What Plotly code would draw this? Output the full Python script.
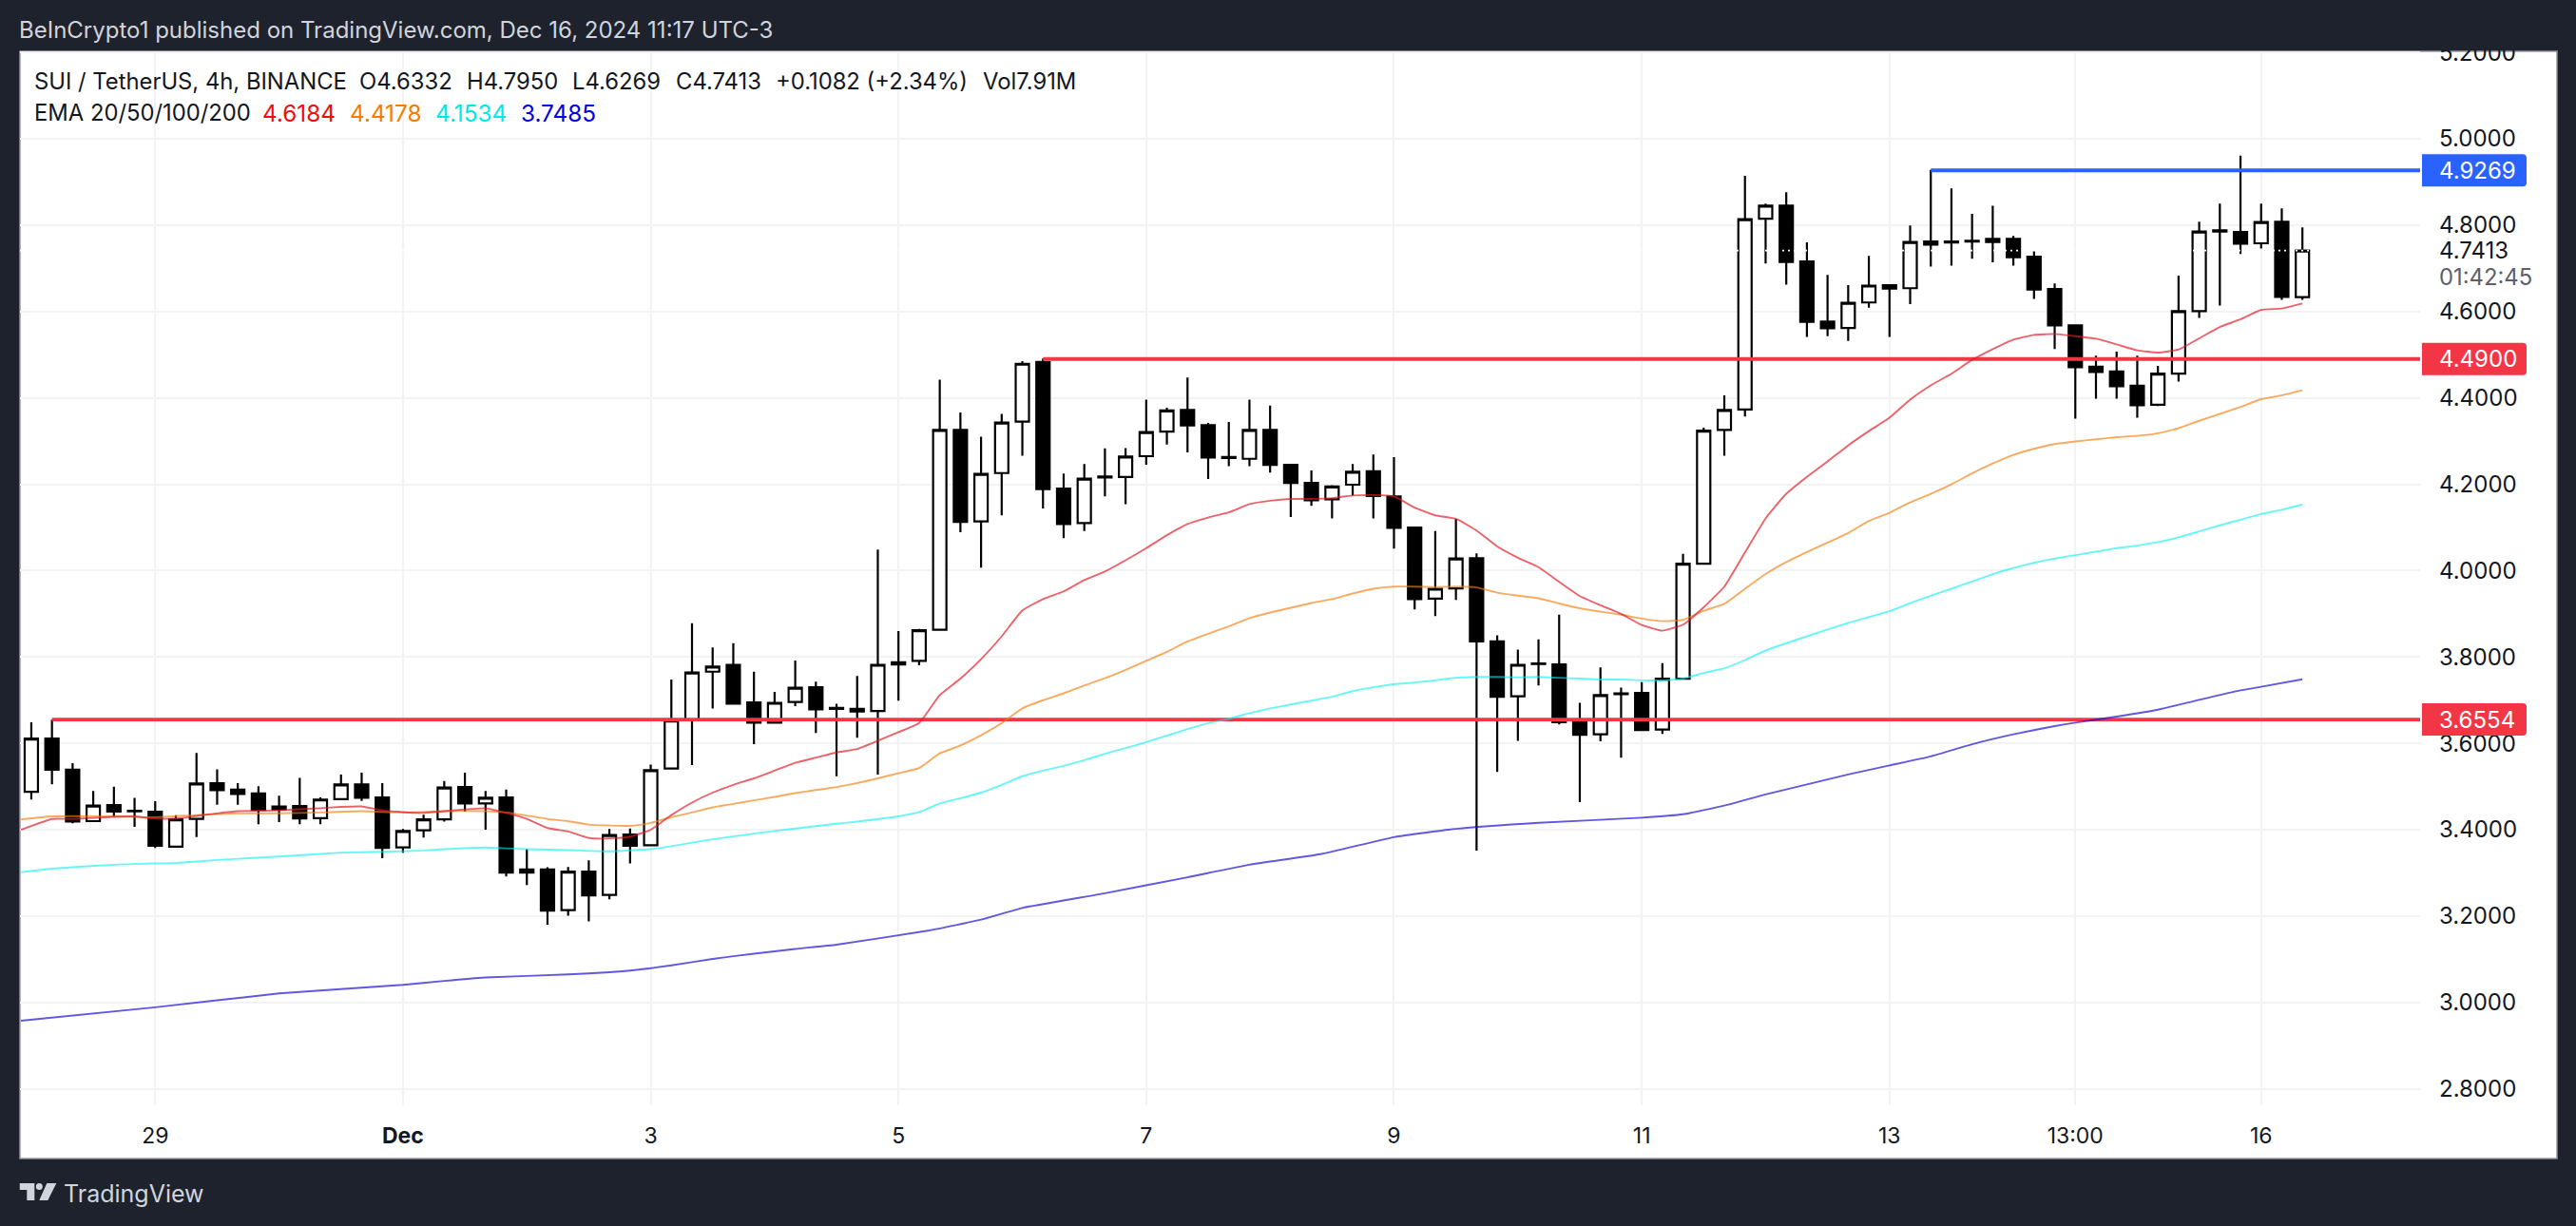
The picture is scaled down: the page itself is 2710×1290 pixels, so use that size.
import plotly.graph_objects as go

# ---------- data ----------
bar_index = list(range(-6, 105))
opens = [3.488,3.611,3.539,3.420,3.457,3.444,3.442,3.361,3.425,3.508,3.493,3.484,3.447,3.455,3.427,3.471,3.505,3.475,3.359,3.399,3.424,3.499,3.461,3.475,3.308,3.308,3.214,3.303,3.249,3.389,3.364,3.542,3.654,3.766,3.782,3.695,3.648,3.696,3.730,3.682,3.680,3.675,3.783,3.791,3.863,4.326,4.114,4.226,4.345,4.483,4.190,4.110,4.218,4.217,4.265,4.322,4.372,4.337,4.263,4.259,4.326,4.245,4.203,4.165,4.199,4.230,4.172,4.100,3.935,3.959,4.029,3.836,3.709,3.785,3.783,3.650,3.621,3.716,3.717,3.632,3.750,4.016,4.326,4.373,4.815,4.845,4.716,4.577,4.562,4.621,4.661,4.654,4.762,4.762,4.764,4.768,4.768,4.727,4.652,4.568,4.472,4.461,4.428,4.384,4.456,4.601,4.788,4.784,4.758,4.808,4.6332]
highs = [3.649,3.655,3.554,3.490,3.500,3.474,3.466,3.434,3.578,3.540,3.508,3.501,3.479,3.520,3.475,3.528,3.532,3.508,3.402,3.435,3.513,3.532,3.490,3.493,3.355,3.313,3.314,3.329,3.402,3.403,3.551,3.748,3.878,3.822,3.832,3.766,3.719,3.792,3.743,3.692,3.756,4.049,3.860,3.865,4.442,4.366,4.310,4.363,4.485,4.491,4.225,4.247,4.283,4.284,4.396,4.377,4.447,4.342,4.344,4.396,4.382,4.246,4.232,4.198,4.247,4.269,4.263,4.102,4.092,4.120,4.040,3.850,3.817,3.841,3.898,3.694,3.776,3.729,3.742,3.786,4.039,4.331,4.406,4.914,4.850,4.876,4.760,4.685,4.661,4.729,4.662,4.799,4.928,4.885,4.826,4.845,4.775,4.740,4.665,4.568,4.498,4.507,4.498,4.474,4.683,4.808,4.850,4.961,4.850,4.839,4.7950]
lows = [3.470,3.505,3.415,3.419,3.430,3.407,3.358,3.360,3.383,3.458,3.458,3.413,3.418,3.413,3.413,3.471,3.467,3.334,3.347,3.382,3.419,3.442,3.400,3.292,3.272,3.180,3.201,3.188,3.239,3.322,3.363,3.542,3.550,3.681,3.692,3.598,3.646,3.686,3.624,3.524,3.613,3.528,3.699,3.781,3.861,4.089,4.007,4.128,4.266,4.144,4.075,4.092,4.172,4.154,4.245,4.292,4.274,4.212,4.242,4.242,4.227,4.124,4.150,4.121,4.174,4.121,4.051,3.910,3.895,3.932,3.352,3.534,3.606,3.734,3.644,3.464,3.605,3.567,3.629,3.622,3.750,4.016,4.266,4.357,4.711,4.662,4.541,4.543,4.532,4.609,4.541,4.617,4.704,4.706,4.722,4.714,4.706,4.629,4.513,4.352,4.398,4.398,4.354,4.381,4.438,4.585,4.614,4.733,4.746,4.627,4.6269]
closes = [3.611,3.539,3.419,3.456,3.442,3.443,3.363,3.424,3.507,3.492,3.483,3.446,3.454,3.426,3.470,3.505,3.474,3.358,3.397,3.424,3.498,3.461,3.474,3.301,3.301,3.213,3.303,3.248,3.388,3.363,3.538,3.653,3.764,3.778,3.692,3.648,3.694,3.729,3.679,3.680,3.674,3.782,3.788,3.862,4.326,4.113,4.224,4.343,4.479,4.189,4.108,4.213,4.216,4.264,4.321,4.371,4.336,4.262,4.261,4.326,4.245,4.203,4.163,4.195,4.229,4.173,4.099,3.934,3.958,4.028,3.836,3.708,3.782,3.784,3.649,3.620,3.712,3.714,3.631,3.750,4.016,4.324,4.372,4.814,4.845,4.715,4.576,4.561,4.620,4.660,4.653,4.761,4.755,4.760,4.762,4.761,4.726,4.651,4.568,4.471,4.460,4.427,4.383,4.456,4.601,4.785,4.785,4.757,4.807,4.634,4.7413]

ema20_idx = [-6.5,-5,-4,-2,-1,0,1,2,3,4,6,8,9,10,11,12,13,14,16,17,18,19,20,21,22,23,24,25,26,27,28,29,30,31,32,33,34,35,36,37,38,39,40,41,42,43,44,45,46,47,48,49,50,51,52,53,54,55,56,57,58,59,60,61,62,63,64,65,66,67,68,69,70,71,72,73,74,75,76,77,78,79,80,81,82,83,84,85,86,87,88,89,90,91,92,93,94,95,96,97,98,99,100,101,102,103,104]
ema20 = [3.400,3.425,3.425,3.430,3.431,3.426,3.426,3.432,3.438,3.443,3.445,3.450,3.453,3.454,3.445,3.441,3.439,3.443,3.450,3.439,3.425,3.404,3.396,3.381,3.380,3.384,3.400,3.434,3.463,3.486,3.504,3.519,3.537,3.555,3.567,3.579,3.587,3.606,3.626,3.647,3.712,3.750,3.795,3.848,3.908,3.934,3.952,3.978,3.998,4.024,4.052,4.082,4.108,4.123,4.135,4.154,4.162,4.166,4.166,4.168,4.174,4.175,4.172,4.146,4.128,4.120,4.093,4.056,4.030,4.008,3.974,3.941,3.920,3.900,3.874,3.861,3.875,3.915,3.963,4.042,4.121,4.178,4.217,4.253,4.290,4.323,4.354,4.396,4.429,4.456,4.488,4.513,4.535,4.546,4.548,4.543,4.537,4.524,4.510,4.505,4.512,4.538,4.564,4.582,4.604,4.607,4.6184]

ema50_idx = [-6.5,-5,-2,0,2,4,6,8,10,12,14,16,17,18,19,20,21,22,23,24,25,26,27,28,29,30,31,32,33,34,35,36,37,38,39,40,41,42,43,44,45,46,47,48,49,50,51,52,53,54,55,56,57,58,59,60,61,62,63,64,65,66,67,68,69,70,71,72,73,74,75,76,77,78,79,80,81,82,83,84,85,86,87,88,89,90,91,92,93,94,95,96,97,98,99,100,101,102,103,104]
ema50 = [3.424,3.431,3.431,3.429,3.434,3.438,3.438,3.440,3.443,3.440,3.443,3.443,3.440,3.433,3.425,3.420,3.412,3.410,3.409,3.416,3.429,3.440,3.452,3.460,3.468,3.476,3.485,3.492,3.499,3.508,3.519,3.531,3.543,3.577,3.595,3.619,3.647,3.681,3.700,3.716,3.734,3.751,3.770,3.791,3.812,3.836,3.854,3.871,3.890,3.903,3.914,3.925,3.934,3.947,3.958,3.963,3.963,3.962,3.963,3.961,3.949,3.942,3.936,3.924,3.913,3.905,3.898,3.889,3.883,3.886,3.907,3.923,3.958,3.992,4.020,4.043,4.065,4.087,4.115,4.134,4.158,4.178,4.200,4.225,4.248,4.268,4.282,4.293,4.299,4.304,4.309,4.312,4.318,4.330,4.347,4.363,4.379,4.397,4.406,4.4178]

ema100_idx = [-6.5,-5,-2,0,1,3,6,9,11,13,14,16,17,18,20,22,24,25,27,29,31,33,34,36,37,38,39,40,41,42,43,44,45,46,47,48,49,50,51,52,53,54,55,56,57,58,59,60,61,62,63,64,65,66,67,68,69,70,71,72,73,74,75,76,77,78,80,82,84,85,86,87,88,89,90,91,92,93,94,95,96,97,98,99,100,101,102,103,104]
ema100 = [3.302,3.310,3.319,3.322,3.323,3.330,3.338,3.347,3.349,3.352,3.355,3.359,3.357,3.355,3.353,3.350,3.355,3.362,3.378,3.391,3.403,3.414,3.419,3.431,3.441,3.461,3.473,3.486,3.504,3.524,3.537,3.548,3.561,3.576,3.589,3.603,3.618,3.633,3.647,3.657,3.670,3.681,3.690,3.699,3.708,3.721,3.730,3.737,3.741,3.746,3.752,3.754,3.754,3.753,3.754,3.752,3.750,3.748,3.748,3.746,3.746,3.750,3.763,3.774,3.793,3.815,3.848,3.879,3.906,3.925,3.942,3.958,3.975,3.992,4.006,4.018,4.028,4.036,4.044,4.052,4.058,4.066,4.077,4.091,4.105,4.118,4.131,4.141,4.1534]

ema200_idx = [-6.5,0,6,12,14,16,20,23,25,27,29,31,33,37.5,40,42,46,50,53,56.5,60,63,67,72,74,76,78,80,82,84,86,88,90,92,93,95,97,99,101,102,104]
ema200 = [2.958,2.989,3.021,3.041,3.050,3.058,3.065,3.074,3.086,3.101,3.113,3.124,3.134,3.167,3.192,3.219,3.253,3.290,3.319,3.344,3.383,3.402,3.416,3.428,3.436,3.456,3.482,3.505,3.528,3.549,3.570,3.598,3.621,3.640,3.648,3.662,3.678,3.701,3.723,3.731,3.7485]

level_low = 3.6554
level_mid = 4.4900
level_high = 4.9269
level_low_start = -5
level_mid_start = 43
level_high_start = 86
last_price = 4.7413

x_tick_vals = [0, 12, 24, 36, 48, 60, 72, 84, 93, 102]
x_tick_text = ["29", "<b>Dec</b>", "3", "5", "7", "9", "11", "13", "13:00", "16"]
y_tick_vals = [2.8, 3.0, 3.2, 3.4, 3.6, 3.8, 4.0, 4.2, 4.4, 4.6, 4.8, 5.0, 5.2]

header_text = "BeInCrypto1 published on TradingView.com, Dec 16, 2024 11:17 UTC-3"
ohlc_tokens = ["SUI / TetherUS, 4h, BINANCE", "O4.6332", "H4.7950", "L4.6269", "C4.7413", "+0.1082 (+2.34%)", "Vol7.91M"]
ema_title = "EMA 20/50/100/200"
ema_values = ["4.6184", "4.4178", "4.1534", "3.7485"]
ema_colors = ["#f00d0d", "#f57c00", "#00e8e8", "#0000e0"]

# ---------- layout constants ----------
W, H = 2710, 1290
L, R, T, B = 20.7, 2546, 54, 1163
X_RANGE = [-6.55, 109.7]
Y_RANGE = [2.762, 5.2025]
DARK = "#1e222d"
FONT = "Inter"
OHLC_X = [36, 378, 491, 602, 711, 816, 1034]
EMA_X = [36, 276, 368, 457.5, 548]

px = lambda x: (x - L) / (R - L)
py = lambda y: (B - y) / (B - T)

fig = go.Figure()

for start, level, color in [(level_low_start, level_low, "#f23645"),
                            (level_mid_start, level_mid, "#f23645"),
                            (level_high_start, level_high, "#2962ff")]:
    fig.add_trace(go.Scatter(x=[start, X_RANGE[1]], y=[level, level], mode="lines",
                             line=dict(color=color, width=3.8), hoverinfo="skip"))

for ix, vals, color in [(ema200_idx, ema200, "rgba(20,10,210,0.68)"),
                        (ema100_idx, ema100, "rgba(0,240,240,0.6)"),
                        (ema50_idx, ema50, "rgba(245,125,10,0.65)"),
                        (ema20_idx, ema20, "rgba(225,25,35,0.68)")]:
    fig.add_trace(go.Scatter(x=ix, y=vals, mode="lines",
                             line=dict(color=color, width=1.9, shape="spline", smoothing=0.4), hoverinfo="skip"))

fig.add_trace(go.Candlestick(
    x=bar_index, open=opens, high=highs, low=lows, close=closes,
    increasing=dict(fillcolor="#ffffff", line=dict(color="#000000", width=2.2)),
    decreasing=dict(fillcolor="#000000", line=dict(color="#000000", width=2.2)),
    whiskerwidth=0,
))
fig.add_trace(go.Scatter(x=X_RANGE, y=[last_price, last_price], mode="lines",
                         line=dict(color="#ffffff", width=1.6, dash="2px,4px"), hoverinfo="skip"))

def tag_shape(value, color):
    x0, x1 = px(2548), px(2658)
    r = 4 / (R - L)
    h = 0.0372
    rv = 4 / 454.4
    path = (f"M {x0},{value-h} L {x1-r},{value-h} Q {x1},{value-h} {x1},{value-h+rv} "
            f"L {x1},{value+h-rv} Q {x1},{value+h} {x1-r},{value+h} L {x0},{value+h} Z")
    return dict(type="path", xref="paper", yref="y", path=path,
                fillcolor=color, line=dict(width=0), layer="above")

shapes = [
    dict(type="rect", xref="paper", yref="paper", x0=px(20.7), x1=px(2690), y0=py(54), y1=py(1219),
         fillcolor="#ffffff", line=dict(color="#9598a1", width=1.5), layer="below"),
    dict(type="rect", xref="paper", yref="paper", x0=px(-2), x1=px(2712), y0=py(-2), y1=py(53),
         fillcolor=DARK, line=dict(width=0), layer="above"),
    tag_shape(level_high, "#2962ff"),
    tag_shape(level_mid, "#f23645"),
    tag_shape(level_low, "#f23645"),
    # TradingView mark
    dict(type="path", xref="paper", yref="paper", layer="above", fillcolor="#d1d4dc", line=dict(width=0),
         path=f"M {px(20.5)},{py(1245)} L {px(36)},{py(1245)} L {px(36)},{py(1263)} L {px(28)},{py(1263)} "
              f"L {px(28)},{py(1252)} L {px(20.5)},{py(1252)} Z"),
    dict(type="circle", xref="paper", yref="paper", layer="above", fillcolor="#d1d4dc", line=dict(width=0),
         x0=px(37.5), x1=px(44.5), y0=py(1245), y1=py(1252)),
    dict(type="path", xref="paper", yref="paper", layer="above", fillcolor="#d1d4dc", line=dict(width=0),
         path=f"M {px(49)},{py(1245)} L {px(59)},{py(1245)} L {px(50)},{py(1263)} L {px(41)},{py(1263)} Z"),
]

def note(text, x, y, size, color, yref="paper"):
    return dict(text=text, x=px(x), xref="paper", y=y if yref == "y" else py(y), yref=yref,
                xanchor="left", yanchor="middle", showarrow=False, align="left", borderpad=0, xshift=-1,
                font=dict(family=FONT, size=size, color=color))

annotations = [note(header_text, 20, 32, 24, "#d1d4dc"),
               note("TradingView", 67, 1256, 25, "#d1d4dc"),
               note(ema_title, EMA_X[0], 119, 23.8, "#131722")]
annotations += [note(t, x, 85, 23.8, "#131722") for t, x in zip(ohlc_tokens, OHLC_X)]
annotations += [note(t, x, 119, 24.3, c) for t, x, c in zip(ema_values, EMA_X[1:], ema_colors)]
annotations += [note(f"{v:.4f}", 2566.5, v, 24, "#ffffff", yref="y") for v in (level_high, level_mid, level_low)]
annotations += [note(f"{last_price:.4f}", 2566.5, last_price, 24, "#131722", yref="y"),
                note("01:42:45", 2566.5, 291.7, 23.8, "#5d606b")]

fig.update_layout(
    width=W, height=H, autosize=False,
    margin=dict(l=L, r=W - R, t=T, b=H - B, pad=0),
    paper_bgcolor=DARK, plot_bgcolor="rgba(0,0,0,0)",
    showlegend=False, boxgap=0.3, boxgroupgap=0.08, hovermode=False,
    shapes=shapes, annotations=annotations,
    font=dict(family=FONT, size=24, color="#131722"),
    xaxis=dict(range=X_RANGE, tickvals=x_tick_vals, ticktext=x_tick_text, ticks="",
               showgrid=True, gridcolor="#f2f3f5", gridwidth=2, zeroline=False, showline=False,
               rangeslider=dict(visible=False), ticklabelstandoff=16,
               tickfont=dict(family=FONT, size=23, color="#131722")),
    yaxis=dict(range=Y_RANGE, side="right", tickvals=y_tick_vals, tickformat=".4f", ticks="",
               showgrid=True, gridcolor="#f2f3f5", gridwidth=2, zeroline=False, showline=False,
               ticklabelstandoff=19, tickfont=dict(family=FONT, size=24, color="#131722")),
)

fig.write_html("out.html", config=dict(displayModeBar=False),
               post_script="document.body.style.margin='0';document.body.style.background='#1e222d';")
